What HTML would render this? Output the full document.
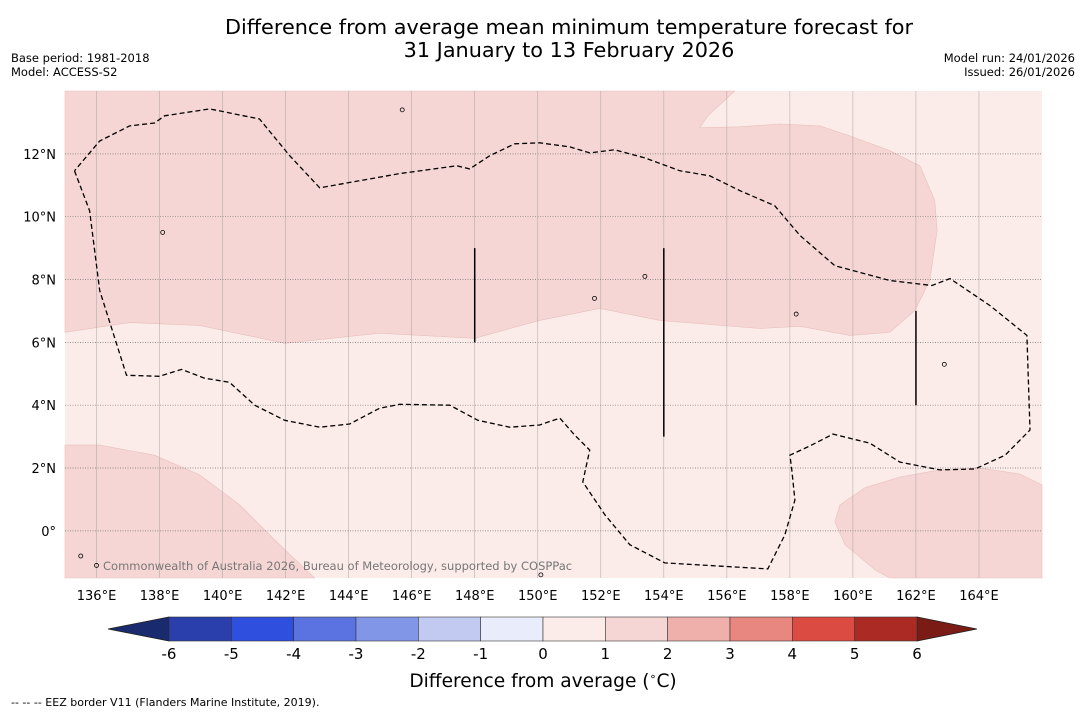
<!DOCTYPE html>
<html><head><meta charset="utf-8"><style>
body{margin:0;background:#fff;width:1085px;height:713px;overflow:hidden;font-family:"Liberation Sans","DejaVu Sans",sans-serif}
svg{position:absolute;left:0;top:0}
</style></head><body>
<svg id="c" width="1085" height="713">
<text x="569" y="34" text-anchor="middle" font-size="20.8" font-family="DejaVu Sans, sans-serif">Difference from average mean minimum temperature forecast for</text>
<text x="569" y="57" text-anchor="middle" font-size="20.8" font-family="DejaVu Sans, sans-serif">31 January to 13 February 2026</text>
<text x="11" y="62" font-size="11.5" font-family="DejaVu Sans, sans-serif">Base period: 1981-2018</text>
<text x="11" y="76" font-size="11.5" font-family="DejaVu Sans, sans-serif">Model: ACCESS-S2</text>
<text x="1075" y="62" text-anchor="end" font-size="11.5" font-family="DejaVu Sans, sans-serif">Model run: 24/01/2026</text>
<text x="1075" y="76" text-anchor="end" font-size="11.5" font-family="DejaVu Sans, sans-serif">Issued: 26/01/2026</text>
<g id="map"></g>
<g id="cb"></g>
<text x="543" y="687" text-anchor="middle" font-size="18.6" font-family="DejaVu Sans, sans-serif">Difference from average (<tspan font-size="11" dy="-7">∘</tspan><tspan dy="7">C)</tspan></text>
<text x="11" y="706" font-size="11" font-family="DejaVu Sans, sans-serif">--  --  -- EEZ border V11 (Flanders Marine Institute, 2019).</text>
</svg>
<script>
const lonTicks=[136,138,140,142,144,146,148,150,152,154,156,158,160,162,164];
const latTicks=[0,2,4,6,8,10,12];
const upperRegion=[[135,6.32],[137.05,6.63],[139.27,6.54],[141.97,5.97],[144.98,6.29],[148,6.13],[150.06,6.7],[151.97,7.08],[153.87,6.7],[157.05,6.44],[158.32,6.51],[159.9,6.22],[161.17,6.32],[161.97,7.02],[162.44,7.97],[162.67,9.56],[162.6,10.51],[162.13,11.62],[161.17,12.1],[159.9,12.57],[158.95,12.89],[157.68,12.95],[156.41,12.86],[155.14,12.83],[155.4,13.21],[156.25,14],[135,14]];
const lowerLeftRegion=[[135,2.73],[136.1,2.73],[137.84,2.41],[139.27,1.78],[140.54,0.83],[141.81,-0.44],[142.92,-1.5],[135,-1.5]];
const lowerRightRegion=[[166,1.46],[165.3,1.81],[164.03,2],[162.76,1.94],[161.49,1.71],[160.38,1.37],[159.59,0.83],[159.43,0.29],[159.75,-0.44],[160.7,-1.24],[161.17,-1.5],[166,-1.5]];
const eezBorder=[[135.3,11.46],[135.78,10.19],[136.1,7.65],[136.95,4.95],[138,4.92],[138.7,5.14],[139.43,4.86],[140.22,4.73],[141.02,4],[141.97,3.52],[143.08,3.3],[144.03,3.4],[144.98,3.9],[145.62,4.03],[147.21,4],[148.1,3.52],[149.11,3.3],[150.06,3.37],[150.7,3.59],[151.17,3.05],[151.65,2.57],[151.43,1.56],[152.13,0.51],[152.92,-0.44],[154.03,-1.02],[156.1,-1.14],[157.3,-1.21],[157.84,-0.13],[158.16,0.98],[158.06,1.94],[158,2.41],[158.63,2.7],[159.37,3.08],[160.54,2.79],[161.49,2.19],[162.76,1.94],[163.87,1.97],[164.83,2.41],[165.62,3.21],[165.52,6.22],[164.35,7.17],[163.08,8.03],[162.51,7.81],[161.17,7.97],[159.43,8.44],[158.32,9.4],[157.52,10.35],[156.41,10.83],[155.46,11.3],[154.51,11.46],[153.4,11.87],[152.44,12.13],[151.65,12.03],[151.02,12.22],[150.06,12.35],[149.27,12.32],[148.48,11.94],[147.84,11.52],[147.43,11.62],[145.62,11.37],[143.08,10.92],[142.13,11.94],[141.17,13.11],[139.59,13.43],[138.16,13.21],[137.84,12.98],[137.05,12.89],[136.1,12.41],[135.3,11.46]];
const eezSegments=[[148,9,6],[154,9,3],[162,7,4]];
const islands=[[145.7,13.4],[138.1,9.5],[151.8,7.4],[153.4,8.1],[158.2,6.9],[162.9,5.3],[135.5,-0.8],[136.0,-1.1],[150.1,-1.4]];
const cbLevels=[-6,-5,-4,-3,-2,-1,0,1,2,3,4,5,6];
const cbColors=["#2a3fab","#2f4fdf","#5a73e0","#8296e8","#c3caf2","#e9ecfa","#fbebe9","#f5d6d4","#efb0ab","#e88680","#db4b41","#ab2b24"];
const cbExtendColors=["#1a2a6e","#7b1b16"];

const NS="http://www.w3.org/2000/svg";
const X0=65,X1=1042,Y0=91,Y1=578,lonMin=135,lonMax=166,latMin=-1.5,latMax=14;
const x=lon=>X0+(lon-lonMin)/(lonMax-lonMin)*(X1-X0);
const y=lat=>Y1-(lat-latMin)/(latMax-latMin)*(Y1-Y0);
function mk(tag,attrs,parent){const e=document.createElementNS(NS,tag);for(const k in attrs)e.setAttribute(k,attrs[k]);parent.appendChild(e);return e;}
const map=document.getElementById('map');
let e=mk('rect',{x:X0,y:Y0,width:X1-X0,height:Y1-Y0,fill:'#fbebe9'},map);


const pts=a=>a.map(p=>x(p[0]).toFixed(1)+','+y(p[1]).toFixed(1)).join(' ');
[['region-upper-1-to-2',upperRegion],['region-lower-left-1-to-2',lowerLeftRegion],['region-lower-right-1-to-2',lowerRightRegion]].forEach(r=>{
 const p=mk('polygon',{points:pts(r[1]),fill:'#f5d6d4',stroke:'#e8c0bc','stroke-width':0.6},map);
 
 
});
lonTicks.forEach(l=>{
 const g=mk('line',{x1:x(l),x2:x(l),y1:Y0,y2:Y1,stroke:'#999','stroke-width':0.6,opacity:0.7},map);
 
 
 const t=mk('text',{x:x(l),y:Y1+22,'text-anchor':'middle','font-size':13,'font-family':'DejaVu Sans, sans-serif'},map);
 t.textContent=l+'°E';
 
 
});
latTicks.forEach(l=>{
 const g=mk('line',{x1:X0,x2:X1,y1:y(l),y2:y(l),stroke:'#777','stroke-width':0.7,'stroke-dasharray':'1,1.5'},map);
 
 
 const t=mk('text',{x:X0-9,y:y(l)+5,'text-anchor':'end','font-size':13,'font-family':'DejaVu Sans, sans-serif'},map);
 t.textContent=l===0?'0°':l+'°N';
 
 
});
islands.forEach(p=>{
 const c=mk('circle',{cx:x(p[0]),cy:y(p[1]),r:2,fill:'none',stroke:'#000','stroke-width':0.8},map);
 
 
});
e=mk('polyline',{points:pts(eezBorder),fill:'none',stroke:'#000','stroke-width':1.3,'stroke-dasharray':'5,3'},map);


eezSegments.forEach(s=>{
 const l=mk('line',{x1:x(s[0]),x2:x(s[0]),y1:y(s[1]),y2:y(s[2]),stroke:'#000','stroke-width':1.5},map);
 
 
});
e=mk('text',{x:103,y:570,'font-size':11.5,fill:'#777','font-family':'DejaVu Sans, sans-serif'},map);
e.textContent='Commonwealth of Australia 2026, Bureau of Meteorology, supported by COSPPac';


const cb=document.getElementById('cb');
const CX0=169,CX1=917,CY0=617,CY1=641;
const cx=v=>CX0+(v-cbLevels[0])/(cbLevels[cbLevels.length-1]-cbLevels[0])*(CX1-CX0);
e=mk('polygon',{points:`${CX0},${CY0} ${CX0},${CY1} 108,${(CY0+CY1)/2}`,fill:cbExtendColors[0],stroke:'#222','stroke-width':0.8},cb);


e=mk('polygon',{points:`${CX1},${CY0} ${CX1},${CY1} 977,${(CY0+CY1)/2}`,fill:cbExtendColors[1],stroke:'#222','stroke-width':0.8},cb);


cbColors.forEach((c,i)=>{
 const r=mk('rect',{x:cx(cbLevels[i]),y:CY0,width:cx(cbLevels[i+1])-cx(cbLevels[i]),height:CY1-CY0,fill:c,stroke:'#333','stroke-width':0.6},cb);
 
 
});
cbLevels.forEach(v=>{
 const t=mk('text',{x:cx(v),y:659,'text-anchor':'middle','font-size':15,'font-family':'DejaVu Sans, sans-serif'},cb);
 t.textContent=v;
 
 
});
</script>
</body></html>
